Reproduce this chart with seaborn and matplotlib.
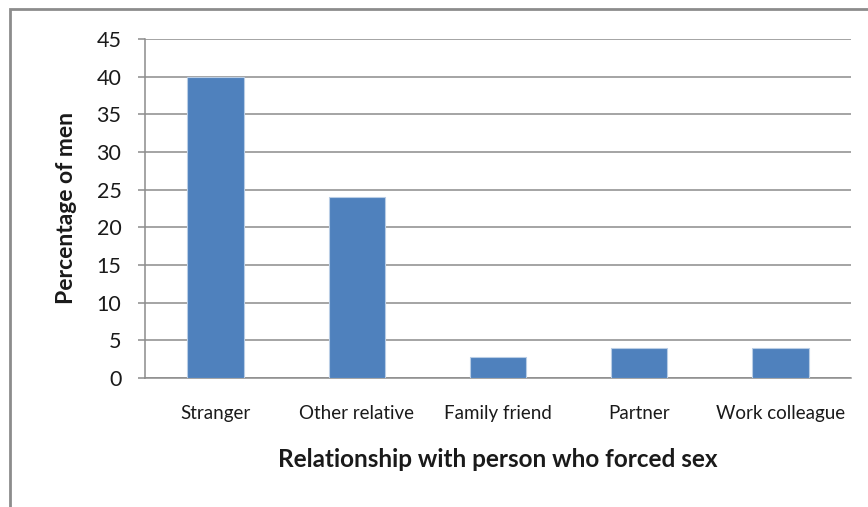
import matplotlib
matplotlib.use('Agg')
import matplotlib.pyplot as plt
import seaborn as sns
import pandas as pd
from matplotlib.patches import Rectangle

categories = ['Stranger', 'Other relative', 'Family friend', 'Partner', 'Work colleague']
percentages = [40, 24, 2.8, 4, 4]
y_ticks = [0, 5, 10, 15, 20, 25, 30, 35, 40, 45]

df = pd.DataFrame({'relationship': categories, 'percent': percentages})

sns.set_style('white')
plt.rcParams['font.family'] = ['Lato', 'DejaVu Sans']

fig = plt.figure(figsize=(8.68, 5.07), dpi=100)
ax = fig.add_axes([145 / 868, 1 - 378 / 507, (851 - 145) / 868, (378 - 39) / 507])

sns.barplot(data=df, x='relationship', y='percent', color='#4F81BD',
            width=0.4, edgecolor='#B9CDE5', linewidth=0.8, saturation=1, ax=ax, zorder=3)

ax.set_ylim(0, 45)
ax.set_yticks(y_ticks)
ax.set_xlim(-0.5, len(categories) - 0.5)
ax.yaxis.grid(True, color='#8C8C8C', linewidth=1.1, zorder=0)
ax.set_axisbelow(True)

for side in ['top', 'right']:
    ax.spines[side].set_visible(False)
for side in ['left', 'bottom']:
    ax.spines[side].set_color('#8C8C8C')
    ax.spines[side].set_linewidth(1.1)

ax.tick_params(axis='y', left=True, length=5, width=1.1, color='#8C8C8C',
               labelsize=15.5, pad=12, labelcolor='#1A1A1A')
ax.tick_params(axis='x', bottom=False, labelsize=13.5, pad=16, labelcolor='#1A1A1A')

ax.set_xlabel('Relationship with person who forced sex', fontsize=17.5, fontweight='bold',
              labelpad=19, color='#1A1A1A')
ax.set_ylabel('Percentage of men', fontsize=16.5, fontweight='bold', labelpad=14,
              color='#1A1A1A')

fig.patches.append(Rectangle((10 / 868, -0.1), 1.2, 1 - 9 / 507 + 0.1,
                             transform=fig.transFigure, fill=False,
                             edgecolor='#8C8C8C', linewidth=2))

fig.savefig('out.png', dpi=100)
plt.close(fig)
